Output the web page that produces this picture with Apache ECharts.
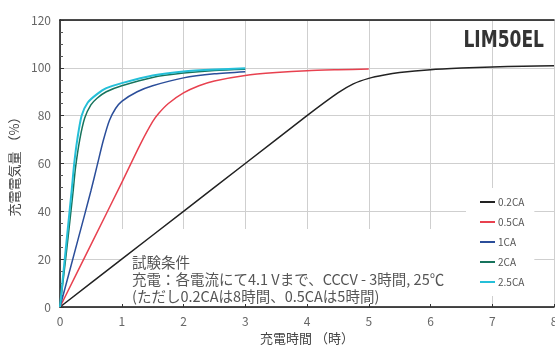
<!DOCTYPE html>
<html><head><meta charset="utf-8">
<script src="https://cdn.jsdelivr.net/npm/echarts@6/dist/echarts.min.js"></script>
<style>html,body{margin:0;padding:0;background:#fff;}#c{width:555px;height:349px;}</style>
</head><body><div id="c"></div>
<script>
const seriesNames = ['0.2CA','0.5CA','1CA','2CA','2.5CA'];
const t02 = [0,1,2,3,4,4.5,4.75,5,5.25,5.5,6,6.5,7,7.5,8];
const v02 = [0,20,40,60,80,89.5,93.3,95.6,97,98,99.2,99.9,100.4,100.7,100.9];
const t05 = [0,0.5,1,1.3,1.5,1.6,1.75,2,2.25,2.5,3,3.5,4,4.5,5];
const v05 = [0,26,52,68,77.5,81,85,89.5,92.5,94.5,96.8,98,98.8,99.2,99.5];
const t1  = [0,0.3,0.5,0.6,0.7,0.8,0.9,1,1.25,1.5,2,2.5,3];
const v1  = [0,29,48.5,59,69.5,78,83,86,90,92.5,95.8,97.5,98.4];
const t2  = [0,0.1,0.215,0.25,0.32,0.4,0.5,0.6,0.75,1,1.5,2,2.5,3];
const v2  = [0,22,49,58,70,79,84.5,87.3,90,92.5,96,97.8,98.9,99.4];
const t25 = [0,0.1,0.19,0.23,0.28,0.35,0.45,0.6,0.75,1,1.5,2,2.5,3];
const v25 = [0,26,49,60,70,80,85.5,89,91.5,93.6,96.8,98.5,99.3,99.8];
const xTicks = [0,1,2,3,4,5,6,7,8];
const yTicks = [0,20,40,60,80,100,120];
const colors = ['#222222','#e8414f','#2b4e9a','#17735c','#25bfd8'];
const widths = [1.5,1.5,1.5,1.5,2];
const allT = [t02,t05,t1,t2,t25];
const allV = [v02,v05,v1,v2,v25];
const note = ['試験条件','充電：各電流にて4.1 Vまで、CCCV - 3時間, 25℃','(ただし0.2CAは8時間、0.5CAは5時間)'];
const FONT = '"Noto Sans CJK JP", "Noto Sans", sans-serif';

const chart = echarts.init(document.getElementById('c'));
chart.setOption({
  animation:false,
  textStyle:{fontFamily:FONT},
  grid:{left:60,top:20,right:1,bottom:42,containLabel:false,outerBoundsMode:'none'},
  xAxis:[{
    type:'value',min:xTicks[0],max:xTicks[xTicks.length-1],interval:1,
    name:'充電時間 （時）',nameLocation:'middle',nameGap:22,
    nameTextStyle:{fontSize:13,color:'#444',fontFamily:FONT},
    axisLine:{lineStyle:{color:'#111',width:1.5}},
    axisTick:{show:true,inside:true,length:3,lineStyle:{color:'#333'}},
    axisLabel:{color:'#666',fontSize:12,margin:8,fontFamily:FONT},
    splitLine:{show:true,lineStyle:{color:'#cfcfcf',width:1}}
  },{
    type:'value',position:'top',min:0,max:8,
    axisLine:{show:true,lineStyle:{color:'#111',width:1.5}},
    axisTick:{show:false},axisLabel:{show:false},splitLine:{show:false}
  }],
  yAxis:{
    type:'value',min:yTicks[0],max:yTicks[yTicks.length-1],interval:20,
    name:'充電電気量 （%）',nameLocation:'middle',nameGap:34,nameRotate:90,
    nameTextStyle:{fontSize:13,color:'#444',fontFamily:FONT},
    axisLine:{show:true,lineStyle:{color:'#111',width:1.5}},
    axisTick:{show:true,inside:true,length:4,lineStyle:{color:'#333'}},
    minorTick:{show:true,splitNumber:4,length:3,lineStyle:{color:'#555'}},
    axisLabel:{color:'#666',fontSize:12,margin:9,fontFamily:FONT},
    splitLine:{show:true,lineStyle:{color:'#cfcfcf',width:1}}
  },
  legend:{
    orient:'vertical',left:466,top:188,padding:[8,10,8,14],
    backgroundColor:'#fff',itemWidth:15,itemHeight:2,itemGap:8,
    icon:'rect',
    textStyle:{fontSize:10,color:'#555',fontFamily:FONT,padding:[0,0,0,-2],height:12,lineHeight:12},
    data:seriesNames
  },
  graphic:[
    {type:'rect',z:1,silent:true,shape:{x:121,y:229,width:345,height:75},style:{fill:'#fff'}},
    {type:'text',z:10,left:132,top:254,style:{text:note.join('\n'),font:'14.5px '+FONT,fill:'#555',lineHeight:17}},
    {type:'text',z:10,x:544,y:30,scaleY:1.2,style:{text:'LIM50EL',align:'right',verticalAlign:'top',font:'bold 19px "DejaVu Sans Condensed", sans-serif',fill:'#333'}}
  ],
  series: seriesNames.map((n,i)=>({
    name:n,type:'line',smooth:0.25,symbol:'none',z:3,
    color:colors[i],
    lineStyle:{color:colors[i],width:widths[i]},
    data: allT[i].map((t,j)=>[t,allV[i][j]])
  }))
});
</script></body></html>
